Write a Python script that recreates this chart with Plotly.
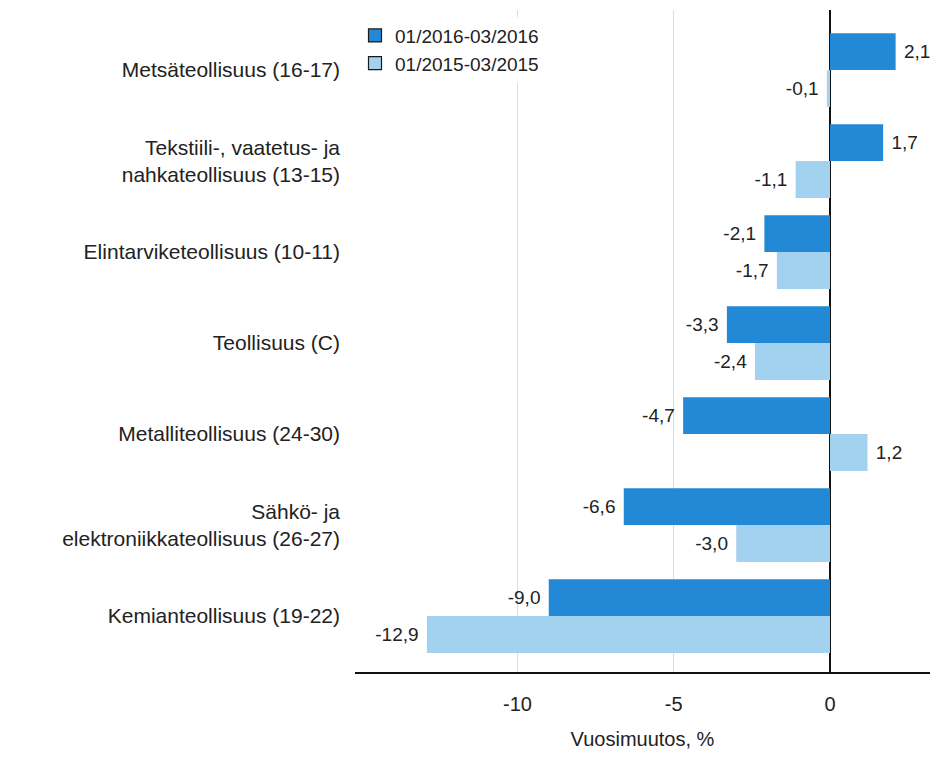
import plotly.graph_objects as go

categories = [
    "Metsäteollisuus (16-17)",
    "Tekstiili-, vaatetus- ja<br>nahkateollisuus (13-15)",
    "Elintarviketeollisuus (10-11)",
    "Teollisuus (C)",
    "Metalliteollisuus (24-30)",
    "Sähkö- ja<br>elektroniikkateollisuus (26-27)",
    "Kemianteollisuus (19-22)",
]
series_2016_name = "01/2016-03/2016"
series_2015_name = "01/2015-03/2015"
values_2016 = [2.1, 1.7, -2.1, -3.3, -4.7, -6.6, -9.0]
values_2015 = [-0.1, -1.1, -1.7, -2.4, 1.2, -3.0, -12.9]
x_tickvals = [-10, -5, 0]
x_ticktext = ["-10", "-5", "0"]

color_2016 = "#2389d6"
color_2015 = "#a3d2f0"


def fmt(v):
    s = f"{v:.1f}".replace(".", ",")
    return " " + s if v >= 0 else s + " "


fig = go.Figure()
fig.add_trace(go.Bar(
    y=categories, x=values_2016, orientation="h", name=series_2016_name,
    marker=dict(color=color_2016, line=dict(width=0)),
    text=[fmt(v) for v in values_2016], textposition="outside",
    textfont=dict(size=19, color="#222"), cliponaxis=False, showlegend=False,
))
fig.add_trace(go.Bar(
    y=categories, x=values_2015, orientation="h", name=series_2015_name,
    marker=dict(color=color_2015, line=dict(width=0)),
    text=[fmt(v) for v in values_2015], textposition="outside",
    textfont=dict(size=19, color="#222"), cliponaxis=False, showlegend=False,
))
# legend entries with outlined square swatches
for name, col in [(series_2016_name, color_2016), (series_2015_name, color_2015)]:
    fig.add_trace(go.Scatter(
        x=[None], y=[None], mode="markers", name=name,
        marker=dict(symbol="square", size=13, color=col,
                    line=dict(width=1.2, color="#1a1a1a")),
    ))

fig.update_layout(
    width=922, height=742,
    margin=dict(l=347, r=0, t=2, b=78, autoexpand=False),
    plot_bgcolor="white", paper_bgcolor="white",
    barmode="group", bargap=0.19, bargroupgap=0,
    font=dict(family="Liberation Sans, Arial, sans-serif", size=20, color="#222"),
    showlegend=True,
    legend=dict(x=0.0, y=0.99, xanchor="left", yanchor="top",
                bgcolor="white", font=dict(size=19), traceorder="normal",
                itemsizing="trace", tracegroupgap=0),
    xaxis=dict(
        range=[-15.2, 3.2], tickvals=x_tickvals, ticktext=x_ticktext,
        showgrid=True, gridcolor="#dcdcdc", gridwidth=1,
        zeroline=True, zerolinecolor="#111", zerolinewidth=1.5,
        showline=True, linecolor="#111", linewidth=1.5, mirror=False,
        ticks="", ticklabelstandoff=13,
        title=dict(text="Vuosimuutos, %", standoff=22, font=dict(size=20)),
        tickfont=dict(size=20),
    ),
    yaxis=dict(
        categoryorder="array", categoryarray=categories,
        range=[6.615, -0.66], showgrid=False, zeroline=False,
        ticks="", ticklabelstandoff=14, tickfont=dict(size=21),
    ),
)

fig.write_html("out.html")
